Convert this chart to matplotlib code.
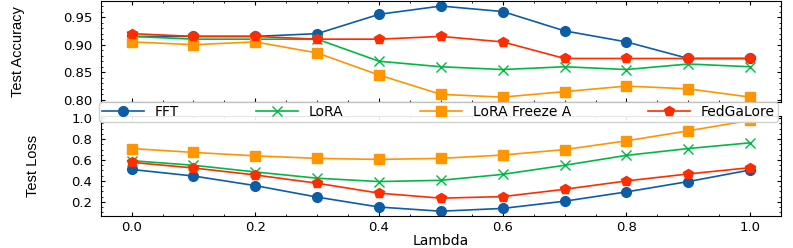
import matplotlib
matplotlib.use("Agg")
import matplotlib.pyplot as plt
from matplotlib.ticker import AutoMinorLocator, MultipleLocator

lam = [0.0, 0.1, 0.2, 0.3, 0.4, 0.5, 0.6, 0.7, 0.8, 0.9, 1.0]

# test accuracy
acc_fft = [0.915, 0.915, 0.915, 0.920, 0.955, 0.970, 0.960, 0.925, 0.905, 0.875, 0.875]
acc_lora = [0.915, 0.910, 0.910, 0.910, 0.870, 0.860, 0.855, 0.860, 0.855, 0.865, 0.860]
acc_freeze = [0.905, 0.900, 0.905, 0.885, 0.845, 0.810, 0.805, 0.815, 0.825, 0.820, 0.805]
acc_fedgalore = [0.920, 0.915, 0.915, 0.910, 0.910, 0.915, 0.905, 0.875, 0.875, 0.875, 0.875]

# test loss
loss_fft = [0.51, 0.447, 0.355, 0.245, 0.15, 0.11, 0.137, 0.206, 0.295, 0.394, 0.505]
loss_lora = [0.594, 0.55, 0.486, 0.426, 0.394, 0.406, 0.463, 0.55, 0.645, 0.71, 0.765]
loss_freeze = [0.71, 0.673, 0.64, 0.616, 0.606, 0.616, 0.648, 0.70, 0.784, 0.88, 0.98]
loss_fedgalore = [0.578, 0.524, 0.457, 0.378, 0.283, 0.235, 0.25, 0.32, 0.40, 0.467, 0.527]

labels = ["FFT", "LoRA", "LoRA Freeze A", "FedGaLore"]
colors = ["#0C5DA5", "#00B945", "#FF9500", "#FF2C00"]
markers = ["o", "x", "s", "p"]

plt.rcParams["font.family"] = "DejaVu Sans"
plt.rcParams["xtick.direction"] = "in"
plt.rcParams["ytick.direction"] = "in"
plt.rcParams["xtick.top"] = True
plt.rcParams["ytick.right"] = True
plt.rcParams["xtick.major.size"] = 3
plt.rcParams["ytick.major.size"] = 3
plt.rcParams["xtick.minor.size"] = 1.5
plt.rcParams["ytick.minor.size"] = 1.5
plt.rcParams["xtick.minor.visible"] = True
plt.rcParams["ytick.minor.visible"] = True

fig = plt.figure(figsize=(7.93, 2.48), dpi=100)
ax1 = fig.add_axes([0.127, 0.590, 0.858, 0.404])
ax2 = fig.add_axes([0.127, 0.130, 0.858, 0.403])

acc = [acc_fft, acc_lora, acc_freeze, acc_fedgalore]
loss = [loss_fft, loss_lora, loss_freeze, loss_fedgalore]

for i in range(4):
    ax1.plot(lam, acc[i], color=colors[i], marker=markers[i], markersize=7,
             linewidth=1.2)
    ax2.plot(lam, loss[i], color=colors[i], marker=markers[i], markersize=7,
             linewidth=1.2, label=labels[i])

ax1.set_ylabel("Test Accuracy", fontsize=10.5, family="Liberation Sans")
ax2.set_ylabel("Test Loss", fontsize=10.5, family="Liberation Sans")
ax1.yaxis.set_label_coords(-0.111, 0.5)
ax2.yaxis.set_label_coords(-0.089, 0.5)
ax2.set_xlabel("Lambda", fontsize=10, labelpad=0)

ax1.yaxis.set_major_locator(MultipleLocator(0.05))
ax2.yaxis.set_major_locator(MultipleLocator(0.2))
for ax in (ax1, ax2):
    ax.xaxis.set_major_locator(MultipleLocator(0.2))
    ax.xaxis.set_minor_locator(MultipleLocator(0.05))
    ax.yaxis.set_minor_locator(AutoMinorLocator())
    ax.tick_params(labelsize=9.5)
    ax.tick_params(axis="y", pad=6)
ax1.tick_params(labelbottom=False)

# legend sits across the gap between the two panels
leg = ax2.legend(ncol=4, loc="center", bbox_to_anchor=(-0.012, 1.04, 1.017, 0.0),
                 mode="expand", fontsize=10, frameon=True, borderpad=0.2,
                 handlelength=3, fancybox=True, framealpha=0.9)
leg.set_zorder(10)

fig.savefig("out.png", dpi=100)
